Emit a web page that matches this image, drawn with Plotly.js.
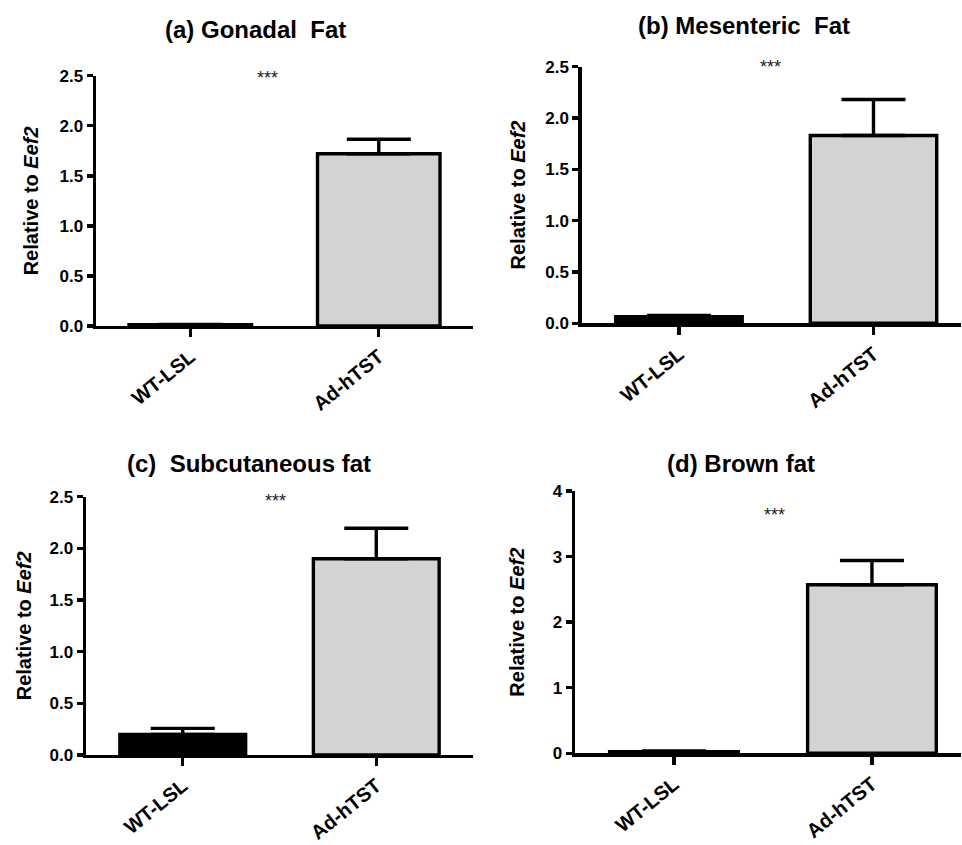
<!DOCTYPE html>
<html><head><meta charset="utf-8">
<script src="https://cdn.plot.ly/plotly-3.0.1.min.js"></script>
<style>html,body{margin:0;padding:0;background:#fff}#chart{width:962px;height:845px}</style>
</head><body><div id="chart"></div>
<script>
const categories = ['WT-LSL', 'Ad-hTST'];
const panelTitles = ['(a) Gonadal\u00a0 Fat', '(b) Mesenteric\u00a0 Fat', '(c)\u00a0 Subcutaneous fat', '(d) Brown fat'];
const yAxisTitle = 'Relative to <i>Eef2</i>';
const significance = '***';

const gonadalMean = [0.012, 1.72];
const gonadalSem = [0.004, 0.145];
const mesentericMean = [0.065, 1.83];
const mesentericSem = [0.012, 0.35];
const subcutaneousMean = [0.20, 1.90];
const subcutaneousSem = [0.058, 0.295];
const brownMean = [0.025, 2.57];
const brownSem = [0.012, 0.37];

const yTicksFat = [0, 0.5, 1.0, 1.5, 2.0, 2.5];
const yTickLabelsFat = ['0.0', '0.5', '1.0', '1.5', '2.0', '2.5'];
const yTicksBrown = [0, 1, 2, 3, 4];
const yTickLabelsBrown = ['0', '1', '2', '3', '4'];

const FONT = 'Arial, "Liberation Sans", Helvetica, sans-serif';
const barColors = ['#000000', '#d3d3d3'];
const bold = s => '<b>' + s + '</b>';

const panels = [
  {mean: gonadalMean, sem: gonadalSem, xa: 'x', ya: 'y', yMax: 2.5, ticks: yTicksFat, labels: yTickLabelsFat, standoff: 16},
  {mean: mesentericMean, sem: mesentericSem, xa: 'x2', ya: 'y2', yMax: 2.5, ticks: yTicksFat, labels: yTickLabelsFat, standoff: 15},
  {mean: subcutaneousMean, sem: subcutaneousSem, xa: 'x3', ya: 'y3', yMax: 2.5, ticks: yTicksFat, labels: yTickLabelsFat, standoff: 13},
  {mean: brownMean, sem: brownSem, xa: 'x4', ya: 'y4', yMax: 4, ticks: yTicksBrown, labels: yTickLabelsBrown, standoff: 23}
];

const traces = panels.map(p => ({
  type: 'bar', x: categories, y: p.mean, xaxis: p.xa, yaxis: p.ya,
  width: 0.65,
  marker: {color: barColors, line: {color: '#000', width: 3.4}},
  error_y: {type: 'data', symmetric: false, array: p.sem, arrayminus: [0, 0], color: '#000', thickness: 3.4, width: 32},
  showlegend: false, hoverinfo: 'x+y'
}));

const xDomains = [[0.0998, 0.4917], [0.6047, 0.999], [0.0894, 0.4917], [0.5977, 0.999]];
const yDomains = [[0.6142, 0.9104], [0.6174, 0.9211], [0.1065, 0.4122], [0.1085, 0.4189]];
const xRanges = [[-0.5, 1.5], [-0.5, 1.45], [-0.5, 1.5], [-0.5, 1.45]];

const layout = {
  width: 962, height: 845,
  margin: {l: 0, r: 0, t: 0, b: 0},
  paper_bgcolor: '#fff', plot_bgcolor: 'rgba(0,0,0,0)',
  font: {family: FONT, color: '#000'},
  annotations: []
};

panels.forEach((p, i) => {
  const sx = i === 0 ? '' : String(i + 1);
  layout['xaxis' + sx] = {
    domain: xDomains[i], anchor: 'y' + sx, range: xRanges[i], type: 'category',
    tickvals: categories, ticktext: categories.map(bold),
    showline: true, linecolor: '#000', linewidth: 3.4, mirror: false,
    ticks: 'outside', ticklen: 8, tickwidth: 3.4, tickcolor: '#000',
    tickangle: -39, tickfont: {family: FONT, size: 20, color: '#000'},
    showgrid: false, zeroline: false, fixedrange: true
  };
  layout['yaxis' + sx] = {
    domain: yDomains[i], anchor: 'x' + sx, range: [0, p.yMax],
    tickvals: p.ticks, ticktext: p.labels.map(bold),
    showline: true, linecolor: '#000', linewidth: 3.4,
    ticks: 'outside', ticklen: 6, tickwidth: 3.4, tickcolor: '#000',
    tickfont: {family: FONT, size: 17, color: '#000'},
    showgrid: false, zeroline: false, fixedrange: true,
    title: {text: bold(yAxisTitle), font: {family: FONT, size: 20, color: '#000'}, standoff: p.standoff}
  };
});

const titlePos = [[255, 30], [744, 25], [249, 463], [741, 463]];
titlePos.forEach((tp, i) => {
  layout.annotations.push({
    text: bold(panelTitles[i]), xref: 'paper', yref: 'paper',
    x: tp[0] / 962, y: 1 - tp[1] / 845, xanchor: 'center', yanchor: 'middle',
    showarrow: false, font: {family: FONT, size: 24, color: '#000'}
  });
});

const starPos = [[267, 78], [770, 67], [275, 501], [774, 515]];
starPos.forEach(sp => {
  layout.annotations.push({
    text: significance, xref: 'paper', yref: 'paper',
    x: sp[0] / 962, y: 1 - sp[1] / 845, xanchor: 'center', yanchor: 'middle',
    showarrow: false, font: {family: FONT, size: 18, color: '#222'}
  });
});

Plotly.newPlot('chart', traces, layout, {displayModeBar: false, staticPlot: true});
</script></body></html>
